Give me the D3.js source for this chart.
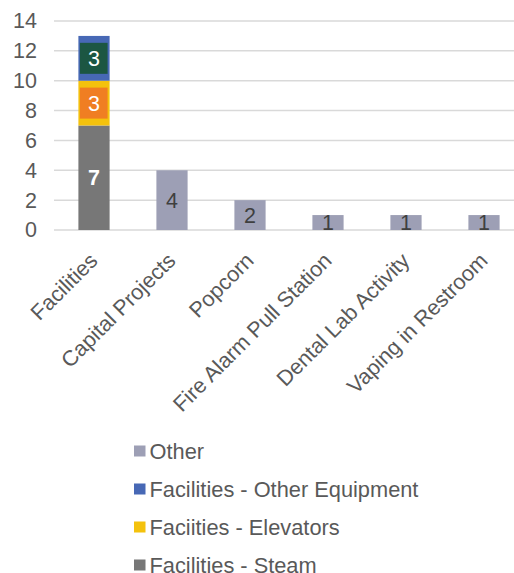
<!DOCTYPE html>
<html><head><meta charset="utf-8">
<script src="https://cdn.jsdelivr.net/npm/d3@7"></script>
<style>
html,body{margin:0;padding:0;background:#fff;}
svg{display:block;font-family:"Liberation Sans",Arial,Helvetica,sans-serif;}
</style></head>
<body>
<svg id="chart" width="514" height="573"></svg>
<script>
const categories = ["Facilities","Capital Projects","Popcorn","Fire Alarm Pull Station","Dental Lab Activity","Vaping in Restroom"];
const seriesNames = ["Facilities - Steam","Faciities - Elevators","Facilities - Other Equipment","Other"];
const steam = [7,0,0,0,0,0];
const elevators = [3,0,0,0,0,0];
const otherEquipment = [3,0,0,0,0,0];
const other = [0,4,2,1,1,1];
const yTicks = [0,2,4,6,8,10,12,14];
const legendOrder = ["Other","Facilities - Other Equipment","Faciities - Elevators","Facilities - Steam"];

const colors = {
  "Facilities - Steam":"#777777",
  "Faciities - Elevators":"#f4c20d",
  "Facilities - Other Equipment":"#4768b5",
  "Other":"#9d9fb5"
};
const labelStyle = {
  "Facilities - Steam":{fill:"#ffffff",weight:"bold",box:null},
  "Faciities - Elevators":{fill:"#ffffff",weight:"normal",box:"#f07e22"},
  "Facilities - Other Equipment":{fill:"#ffffff",weight:"normal",box:"#1c5642"},
  "Other":{fill:"#3f3f3f",weight:"normal",box:null}
};

const valuesBySeries = {
  "Facilities - Steam":steam,
  "Faciities - Elevators":elevators,
  "Facilities - Other Equipment":otherEquipment,
  "Other":other
};
const table = categories.map((c,i)=>{
  const row = {category:c};
  seriesNames.forEach(s=>row[s]=valuesBySeries[s][i]);
  return row;
});

const svg = d3.select("#chart");
const x = d3.scaleBand().domain(categories).range([55,523]).paddingInner(0.6).paddingOuter(0.3);
const y = d3.scaleLinear().domain([0,14]).range([230,21]);

// gridlines
svg.append("g").selectAll("line").data(yTicks).join("line")
  .attr("x1",54).attr("x2",523)
  .attr("y1",d=>y(d)).attr("y2",d=>y(d))
  .attr("stroke","#d9d9d9").attr("stroke-width",1.5);

// y axis labels
const yAxis = d3.axisLeft(y).tickValues(yTicks).tickSize(0).tickPadding(0);
const yg = svg.append("g").attr("transform","translate(37,0)").call(yAxis);
yg.select(".domain").remove();
yg.selectAll("text").attr("font-size",21.5).attr("fill","#595959")
  .attr("font-family","'Liberation Sans',Arial,sans-serif");

// stacked bars
const stack = d3.stack().keys(seriesNames)(table);
const layers = svg.append("g").selectAll("g").data(stack).join("g")
  .attr("fill",d=>colors[d.key]);
layers.selectAll("rect").data(d=>d.filter(p=>p[1]-p[0]>0)).join("rect")
  .attr("x",d=>x(d.data.category))
  .attr("width",x.bandwidth())
  .attr("y",d=>y(d[1]))
  .attr("height",d=>y(d[0])-y(d[1]));

// data labels
stack.forEach(layer=>{
  const st = labelStyle[layer.key];
  const g = svg.append("g");
  layer.filter(p=>p[1]-p[0]>0).forEach(p=>{
    const cx = x(p.data.category)+x.bandwidth()/2;
    const cy = (y(p[0])+y(p[1]))/2;
    if(st.box){
      g.append("rect").attr("x",x(p.data.category)+1.5).attr("width",x.bandwidth()-3.5)
        .attr("y",cy-15.5).attr("height",31).attr("fill",st.box);
    }
    g.append("text").attr("x",cx).attr("y",cy).attr("dy","0.36em")
      .attr("text-anchor","middle").attr("font-size",21.5)
      .attr("font-weight",st.weight).attr("fill",st.fill)
      .text(p[1]-p[0]);
  });
});

// category labels
svg.append("g").selectAll("text").data(categories).join("text")
  .attr("transform",d=>`translate(${x(d)+x.bandwidth()/2+5},262) rotate(-45)`)
  .attr("text-anchor","end").attr("font-size",21.6).attr("fill","#595959")
  .text(d=>d);

// legend
const lg = svg.append("g").selectAll("g").data(legendOrder).join("g")
  .attr("transform",(d,i)=>`translate(134,${451+i*38})`);
lg.append("rect").attr("x",0).attr("y",-5.5).attr("width",11.5).attr("height",11)
  .attr("fill",d=>colors[d]);
lg.append("text").attr("x",15.5).attr("y",0).attr("dy","0.36em")
  .attr("font-size",21.8).attr("fill","#595959").text(d=>d);
</script>
</body></html>
